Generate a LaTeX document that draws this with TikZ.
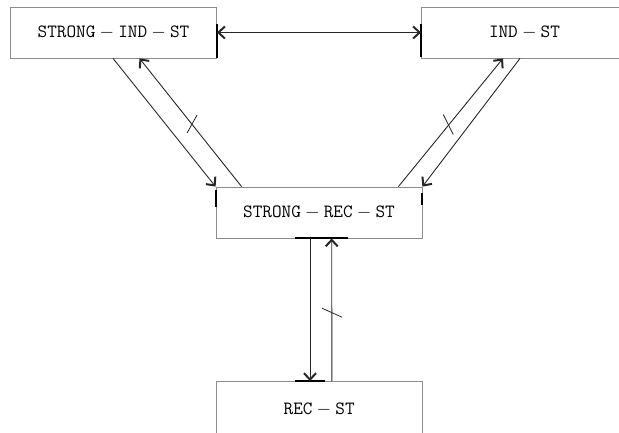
\RequirePackage{fix-cm}
\documentclass[tikz,border=0pt]{standalone}
\usetikzlibrary{arrows.meta,calc}
\begin{document}
\begin{tikzpicture}[x=1pt,y=-1pt,
  box/.style={draw=black!45,line width=0.8pt,rectangle,minimum width=206pt,minimum height=51pt,inner sep=0pt,
    font=\fontsize{18.7}{20}\selectfont},
  tip/.tip={Straight Barb[length=6.5pt,width=12pt,line width=2pt]},
  conn/.style={draw=black!85,line width=0.9pt,-tip},
  bar/.style={draw=black,line width=2pt},
  tick/.style={draw=black!85,line width=0.8pt}]
\useasboundingbox (0,0) rectangle (619,432);
\node[box] (A) at (113.5,32.5) {$\mathtt{STRONG}-\mathtt{IND}-\mathtt{ST}$};
\node[box] (B) at (524.5,32.5) {$\mathtt{IND}-\mathtt{ST}$};
\node[box] (C) at (319,212.5) {$\mathtt{STRONG}-\mathtt{REC}-\mathtt{ST}$};
\node[box,minimum height=56pt] (D) at (319.2,409.5) {$\mathtt{REC}-\mathtt{ST}$};
% thick bars
\draw[bar] ([yshift=34pt]A.south east) -- (A.south east);
\draw[bar] ([yshift=34pt]B.south west) -- ([yshift=1pt]B.south west);
\draw[bar] ([yshift=-3pt]C.north west) -- ([yshift=-20pt]C.north west);
\draw[bar] ([yshift=-6pt]C.north east) -- ([yshift=-18pt]C.north east);
\draw[bar] ([xshift=-24pt]C.south) -- ([xshift=29pt]C.south);
\draw[bar] ([xshift=-24pt]D.north) -- ([xshift=6pt]D.north);
% connectors
\draw[conn,tip-tip] (A.east) -- (B.west);
\draw[conn] ([xshift=-0.5pt]A.south) -- (C.north west);
\draw[conn] ([xshift=26pt]C.north west) coordinate (c1) -- ([xshift=26pt]A.south) coordinate (a1);
\draw[conn] ([xshift=-24pt]C.north east) coordinate (c2) -- ([xshift=-21.5pt]B.south) coordinate (b2);
\draw[conn] ([xshift=-4.5pt]B.south) -- (C.north east);
\draw[conn] ([xshift=-9pt]C.south) -- ([xshift=-9.2pt]D.north);
\draw[conn] ([xshift=12.7pt]D.north) coordinate (d3) -- ([xshift=12.7pt]C.south) coordinate (c3);
% ticks
\draw[tick] ($(c1)!0.5!(a1)+(-3.5,10.5)$) -- ++(10,-18);
\draw[tick] ($(c2)!0.5!(b2)+(-7.5,-8)$) -- ++(10,20);
\draw[tick] ($(d3)!0.5!(c3)+(-9.7,-1.5)$) -- ++(20,9);
\end{tikzpicture}
\end{document}
